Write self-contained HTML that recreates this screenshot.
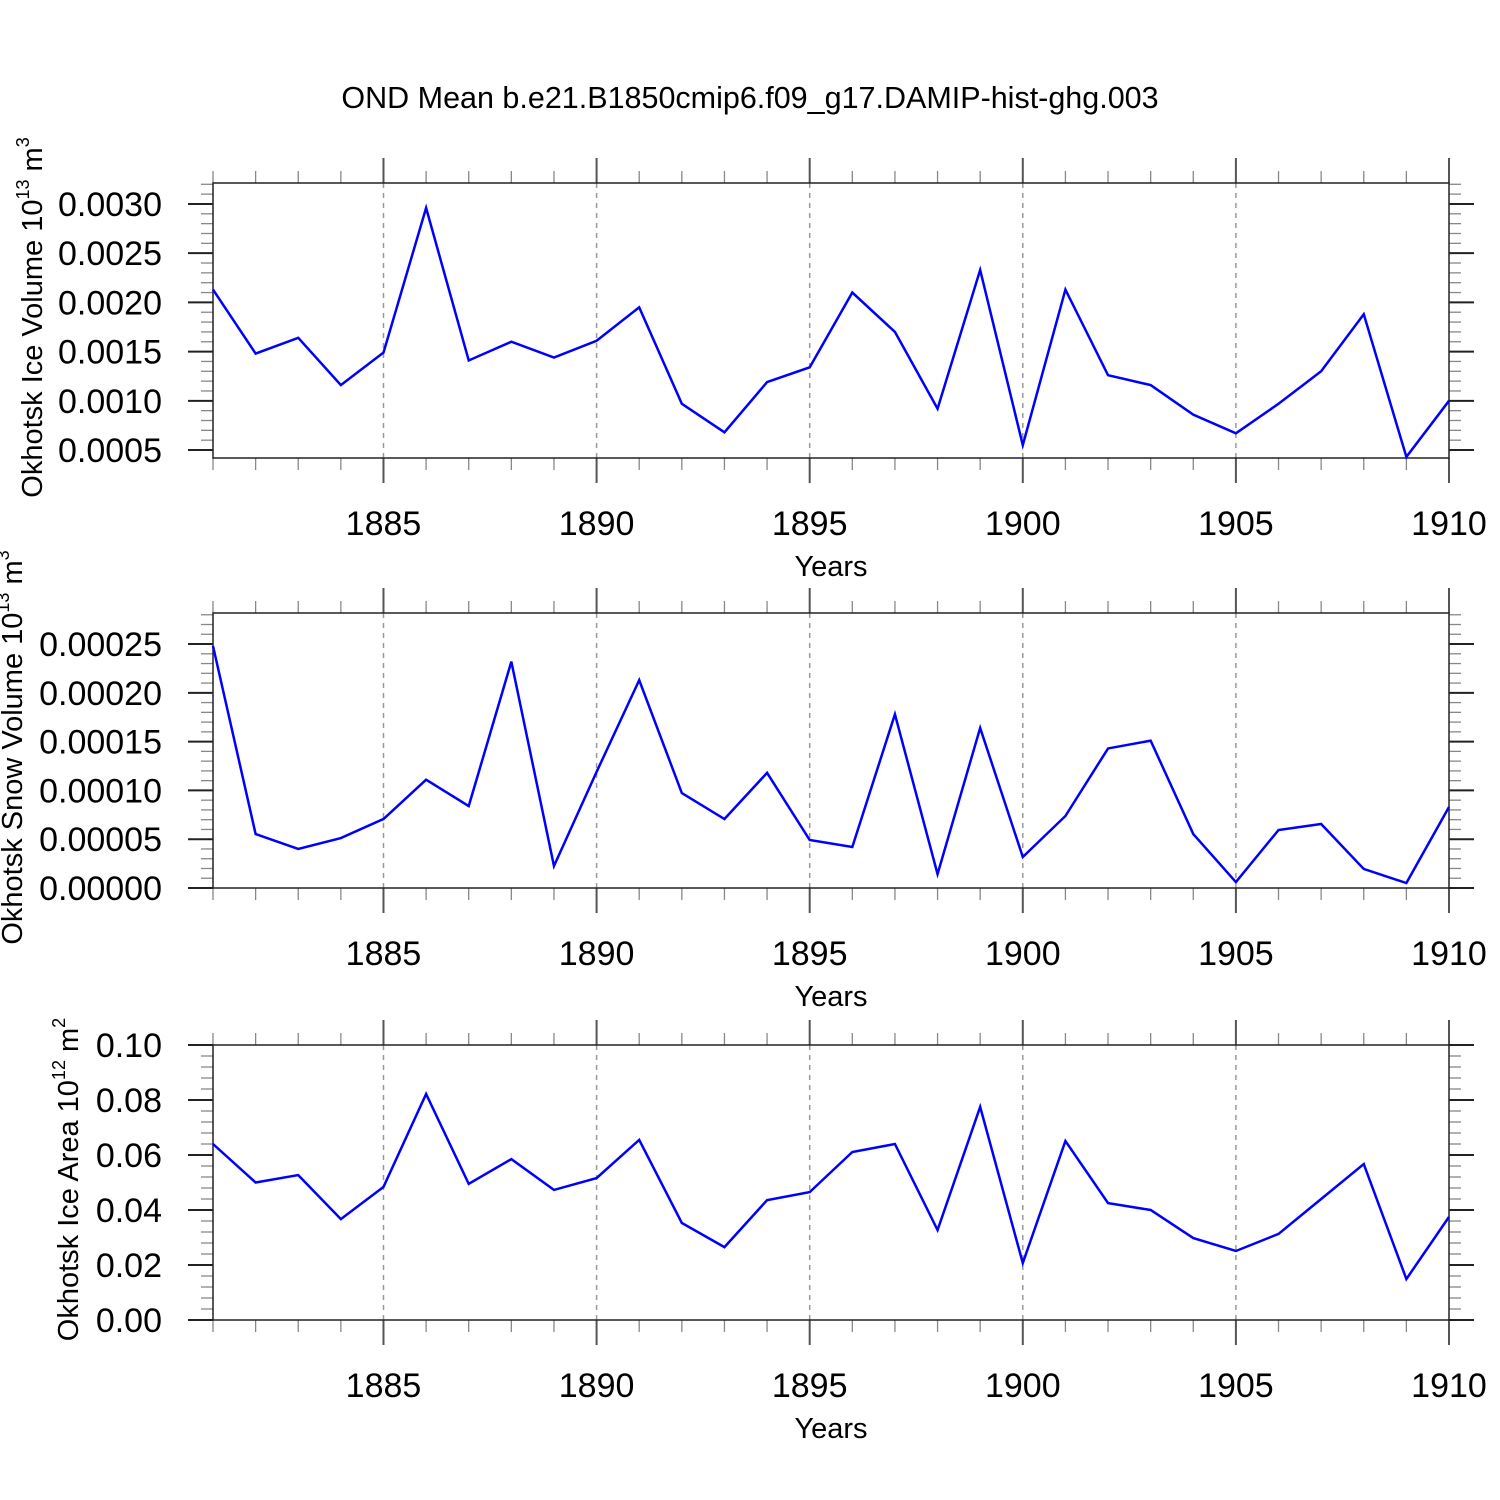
<!DOCTYPE html>
<html><head><meta charset="utf-8"><style>body{margin:0;background:#fff}svg{display:block}</style></head>
<body>
<svg id="c" width="1500" height="1500" xmlns="http://www.w3.org/2000/svg" font-family="Liberation Sans, sans-serif">
<text x="750" y="108" font-size="30.5" text-anchor="middle">OND Mean b.e21.B1850cmip6.f09_g17.DAMIP-hist-ghg.003</text>
</svg>
<script>
const years = [1881,1882,1883,1884,1885,1886,1887,1888,1889,1890,1891,1892,1893,1894,1895,1896,1897,1898,1899,1900,1901,1902,1903,1904,1905,1906,1907,1908,1909,1910];
const xTicks = [1885,1890,1895,1900,1905,1910];
const iceVolume = [0.00213,0.00148,0.00164,0.00116,0.00149,0.00296,0.00141,0.00160,0.00144,0.00161,0.00195,0.00097,0.00068,0.00119,0.00134,0.00210,0.00170,0.00092,0.00233,0.00055,0.00213,0.00126,0.00116,0.00086,0.00067,0.00097,0.00130,0.00188,0.00043,0.00100];
const snowVolume = [0.000248,0.0000553,0.000040,0.0000512,0.0000707,0.000111,0.000084,0.000232,0.0000225,0.000119,0.000213,0.0000973,0.0000707,0.000118,0.0000492,0.000042,0.000178,0.0000143,0.000164,0.0000318,0.0000738,0.000143,0.000151,0.0000553,0.0000061,0.0000594,0.0000656,0.0000195,0.0000051,0.000083];
const iceArea = [0.064,0.050,0.0527,0.0367,0.0484,0.0822,0.0495,0.0585,0.0473,0.0516,0.0655,0.0353,0.0265,0.0436,0.0465,0.0611,0.064,0.0327,0.0775,0.0207,0.0651,0.0425,0.040,0.0298,0.0251,0.0313,0.044,0.0567,0.0149,0.0375];
const iceTicks = ["0.0005","0.0010","0.0015","0.0020","0.0025","0.0030"];
const snowTicks = ["0.00000","0.00005","0.00010","0.00015","0.00020","0.00025"];
const areaTicks = ["0.00","0.02","0.04","0.06","0.08","0.10"];

const NS="http://www.w3.org/2000/svg";
const svg=document.getElementById('c');
function mk(tag,attrs,parent){const e=document.createElementNS(NS,tag);for(const k in attrs)e.setAttribute(k,attrs[k]);(parent||svg).appendChild(e);return e;}
const X0=213,X1=1449;
const xs=y=>X0+(y-1881)/(1910-1881)*(X1-X0);

function panel(name,top,ymin,ymax,ticks,data,titleMain,titleExp,titleX){
  const bot=top+275;
  const g=mk('g',{});
  
  
  const ys=v=>bot-(v-ymin)/(ymax-ymin)*(bot-top);
  xTicks.forEach(t=>{if(t<1910){const l=mk('line',{x1:xs(t),x2:xs(t),y1:top,y2:bot,stroke:'#999','stroke-width':1.5,'stroke-dasharray':'5,5'},g);
    
    }});
  years.forEach(y=>{const maj=xTicks.includes(y);const len=maj?25:12;const x=xs(y);
    mk('line',{x1:x,x2:x,y1:top,y2:top-len,stroke:maj?'#555':'#888','stroke-width':maj?2:1.3},g);
    mk('line',{x1:x,x2:x,y1:bot,y2:bot+len,stroke:maj?'#555':'#888','stroke-width':maj?2:1.3},g);});
  xTicks.forEach(t=>{const tx=mk('text',{x:xs(t),y:bot+77,'font-size':34,'text-anchor':'middle'},g);tx.textContent=t;
    
    });
  const tv=ticks.map(Number);const step=tv[1]-tv[0];const ms=step/5;
  for(let v=tv[0]-10*ms;v<=ymax+1e-12;v+=ms){if(v<ymin-1e-12)continue;const y=ys(v);
    const k=Math.round((v-tv[0])/ms);const maj=k%5===0;const len=maj?25:12;
    mk('line',{x1:X0,x2:X0-len,y1:y,y2:y,stroke:maj?'#222':'#888','stroke-width':maj?2:1.3},g);
    mk('line',{x1:X1,x2:X1+len,y1:y,y2:y,stroke:maj?'#222':'#888','stroke-width':maj?2:1.3},g);}
  ticks.forEach(t=>{const tx=mk('text',{x:X0-51,y:ys(Number(t))+12,'font-size':34,'text-anchor':'end'},g);tx.textContent=t;
    
    });
  const f=mk('rect',{x:X0,y:top,width:X1-X0,height:bot-top,fill:'none',stroke:'#222','stroke-width':1.5},g);
  
  
  const p=mk('polyline',{points:data.map((v,i)=>xs(years[i])+','+ys(v)).join(' '),fill:'none',stroke:'#0000ff','stroke-width':2.5},g);
  
  
  const xt=mk('text',{x:831,y:bot+118,'font-size':29,'text-anchor':'middle'},g);xt.textContent='Years';
  
  
  const cy=(top+bot)/2-3;
  const yt=mk('text',{x:0,y:0,'font-size':29,'text-anchor':'middle',transform:`translate(${titleX},${cy}) rotate(-90)`},g);
  
  
  yt.innerHTML=titleMain+' 10<tspan font-size="18" dy="-13">'+titleExp+'</tspan><tspan dy="13"> m</tspan><tspan font-size="18" dy="-13">'+(name==='ice-area'?'2':'3')+'</tspan>';
}
panel('ice-volume',183,0.000419,0.003213,iceTicks,iceVolume,'Okhotsk Ice Volume','13',42);
panel('snow-volume',613,0,0.0002818,snowTicks,snowVolume,'Okhotsk Snow Volume','13',22);
panel('ice-area',1045,0,0.1,areaTicks,iceArea,'Okhotsk Ice Area','12',78);
</script>
</body></html>
